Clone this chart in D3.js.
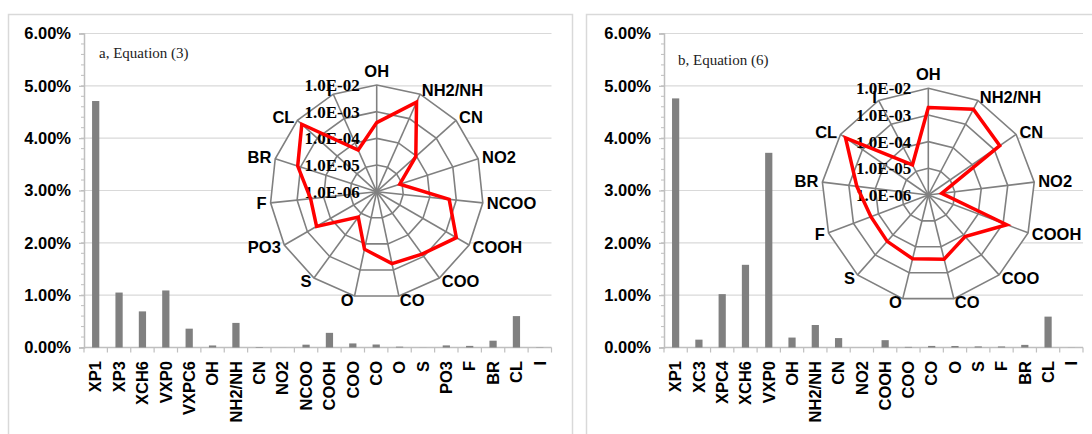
<!DOCTYPE html>
<html>
<head>
<meta charset="utf-8">
<script src="https://cdn.jsdelivr.net/npm/d3@7"></script>
<style>
  body { margin: 0; background: #fff; }
  text { font-family: "Liberation Sans", Arial, sans-serif; font-weight: bold; }
  text.serif { font-family: "Liberation Serif", "Times New Roman", serif; }
  text.note { font-weight: normal; }
</style>
</head>
<body>
<svg width="1092" height="434"></svg>
<script>
// Panel a, Equation (3): share of each group (fraction, shown as %)
var catsA = ["XP1", "XP3", "XCH6", "VXP0", "VXPC6", "OH", "NH2/NH", "CN", "NO2", "NCOO",
             "COOH", "COO", "CO", "O", "S", "PO3", "F", "BR", "CL", "I"];
var valsA = [0.0471, 0.0105, 0.0069, 0.0109, 0.0036, 0.00039, 0.0047, 0.000094, 0.0000081, 0.00054,
             0.0028, 0.00078, 0.00057, 0.00016, 0.000015, 0.00040, 0.00031, 0.0013, 0.0060, 0.000051];

// Panel b, Equation (6)
var catsB = ["XP1", "XC3", "XPC4", "XCH6", "VXP0", "OH", "NH2/NH", "CN", "NO2",
             "COOH", "COO", "CO", "O", "S", "F", "BR", "CL", "I"];
var valsB = [0.0476, 0.0015, 0.0102, 0.0158, 0.0372, 0.0019, 0.0043, 0.0018, 0.0000032,
             0.0014, 0.00012, 0.00030, 0.00029, 0.00021, 0.00020, 0.00050, 0.0059, 0.000019];

// axis ticks
var yTicks = [0, 0.01, 0.02, 0.03, 0.04, 0.05, 0.06];
var radarTicks = [1e-6, 1e-5, 1e-4, 1e-3, 1e-2];
var radarTickLabels = ["1.0E-06", "1.0E-05", "1.0E-04", "1.0E-03", "1.0E-02"];

var svg = d3.select("svg");

var panels = [
  { cats: catsA, vals: valsA, title: "a, Equation (3)", frameX: 8.5, frameW: 564,
    x0: 84, x1: 551.5, tx: 99, ty: 58, cx: 376.7, cy: 191.7 },
  { cats: catsB, vals: valsB, title: "b, Equation (6)", frameX: 586.5, frameW: 530,
    x0: 664, x1: 1083, tx: 678, ty: 65, cx: 928.3, cy: 195 }
];

var yScale = d3.scaleLinear().domain([0, 0.06]).range([347.5, 33.5]);
var R = 106.7;
var rScale = d3.scaleLog().domain([1e-6, 1e-2]).range([0, R]).clamp(true);

function drawPanel(p) {
    var g = svg.append("g");

    // frame
    g.append("rect")
        .attr("x", p.frameX).attr("y", 14.5)
        .attr("width", p.frameW).attr("height", 440)
        .attr("fill", "none").attr("stroke", "#d9d9d9").attr("stroke-width", 1.5);

    var xScale = d3.scaleBand().domain(p.cats).range([p.x0, p.x1]).padding(0);
    var bw = xScale.bandwidth() * 0.31;

    // horizontal gridlines
    g.selectAll(".grid")
        .data(yTicks.slice(1))
        .enter().append("line")
        .attr("x1", p.x0).attr("x2", p.x1)
        .attr("y1", function(d) { return yScale(d); })
        .attr("y2", function(d) { return yScale(d); })
        .attr("stroke", "#d9d9d9").attr("stroke-width", 1.2);

    // y axis with minor ticks every 0.2%
    var yAxis = d3.axisLeft(yScale).tickValues(yTicks).tickFormat(d3.format(".2%")).tickSize(5).tickPadding(8);
    var ya = g.append("g").attr("transform", "translate(" + p.x0 + ",0)").call(yAxis);
    ya.select(".domain").attr("stroke", "#bfbfbf").attr("stroke-width", 1.5);
    ya.selectAll(".tick line").attr("stroke", "#bfbfbf").attr("stroke-width", 1.2);
    ya.selectAll(".tick text").attr("font-size", 16.5).attr("fill", "#000");
    var minor = d3.range(0, 31).map(function(i) { return i * 0.002; });
    g.selectAll(".minor")
        .data(minor)
        .enter().append("line")
        .attr("x1", p.x0 - 3).attr("x2", p.x0)
        .attr("y1", function(d) { return yScale(d); })
        .attr("y2", function(d) { return yScale(d); })
        .attr("stroke", "#bfbfbf").attr("stroke-width", 1);

    // x axis
    var base = yScale(0);
    g.append("line").attr("x1", p.x0).attr("x2", p.x1).attr("y1", base).attr("y2", base)
        .attr("stroke", "#bfbfbf").attr("stroke-width", 1.5);
    g.selectAll(".xtick")
        .data(p.cats.concat(["_end"]))
        .enter().append("line")
        .attr("x1", function(d, i) { return p.x0 + i * xScale.step(); })
        .attr("x2", function(d, i) { return p.x0 + i * xScale.step(); })
        .attr("y1", base).attr("y2", base + 5)
        .attr("stroke", "#bfbfbf").attr("stroke-width", 1.2);
    g.selectAll(".xlab")
        .data(p.cats)
        .enter().append("text")
        .attr("transform", function(d) {
            return "translate(" + (xScale(d) + xScale.bandwidth() / 2) + ",361) rotate(-90)";
        })
        .attr("dy", "0.35em")
        .attr("text-anchor", "end")
        .attr("font-size", 16.5)
        .text(function(d) { return d; });

    // bars
    g.selectAll(".bar")
        .data(p.cats)
        .enter().append("rect")
        .attr("x", function(d) { return xScale(d) + (xScale.bandwidth() - bw) / 2; })
        .attr("y", function(d, i) { return yScale(p.vals[i]); })
        .attr("width", bw)
        .attr("height", function(d, i) { return base - yScale(p.vals[i]); })
        .attr("fill", "#808080");

    // annotation
    g.append("text")
        .attr("class", "serif note")
        .attr("x", p.tx).attr("y", p.ty)
        .attr("font-size", 15)
        .attr("fill", "#222")
        .text(p.title);

    drawRadar(p);
}

// Radar of the group contributions, log scale
function drawRadar(p) {
    var start = p.cats.indexOf("OH");
    var rc = p.cats.slice(start), rv = p.vals.slice(start);
    var n = rc.length;
    var ang = function(i) { return i * 2 * Math.PI / n; };

    var g = svg.append("g").attr("transform", "translate(" + p.cx + "," + p.cy + ")");
    var ring = d3.lineRadial().curve(d3.curveLinearClosed)
        .angle(function(d, i) { return ang(i); });

    // white plot area
    g.append("path")
        .attr("d", ring.radius(R)(rc))
        .attr("fill", "#fff");

    // spokes
    g.selectAll(".spoke")
        .data(rc)
        .enter().append("line")
        .attr("x1", 0).attr("y1", 0)
        .attr("x2", function(d, i) { return R * Math.sin(ang(i)); })
        .attr("y2", function(d, i) { return -R * Math.cos(ang(i)); })
        .attr("stroke", "#808080").attr("stroke-width", 1.6);

    // rings
    g.selectAll(".ring")
        .data(radarTicks.slice(1))
        .enter().append("path")
        .attr("d", function(t) { return ring.radius(rScale(t))(rc); })
        .attr("fill", "none").attr("stroke", "#808080").attr("stroke-width", 1.6);

    // ring labels
    g.selectAll(".rtick")
        .data(radarTicks)
        .enter().append("text")
        .attr("class", "serif")
        .attr("x", -17)
        .attr("y", function(t) { return -rScale(t); })
        .attr("dy", "0.35em")
        .attr("text-anchor", "end")
        .attr("font-size", 17)
        .text(function(t, i) { return radarTickLabels[i]; });

    // category labels
    g.selectAll(".rlab")
        .data(rc)
        .enter().append("text")
        .each(function(d, i) {
            var s = Math.sin(ang(i)), c = Math.cos(ang(i));
            var anchor = s > 0.1 ? "start" : (s < -0.1 ? "end" : "middle");
            var lx = (R + 4) * s, ly = -(R + 4) * c;
            if (anchor === "middle") ly -= c * 10;
            d3.select(this)
                .attr("x", lx).attr("y", ly)
                .attr("dy", "0.35em")
                .attr("text-anchor", anchor);
        })
        .attr("font-size", 16.5)
        .text(function(d) { return d; });

    // data line
    g.append("path")
        .attr("d", d3.lineRadial().curve(d3.curveLinearClosed)
            .angle(function(d, i) { return ang(i); })
            .radius(function(d) { return rScale(d); })(rv))
        .attr("fill", "none")
        .attr("stroke", "#ff0000")
        .attr("stroke-width", 3.5)
        .attr("stroke-linejoin", "miter");
}

panels.forEach(drawPanel);
</script>
</body>
</html>
